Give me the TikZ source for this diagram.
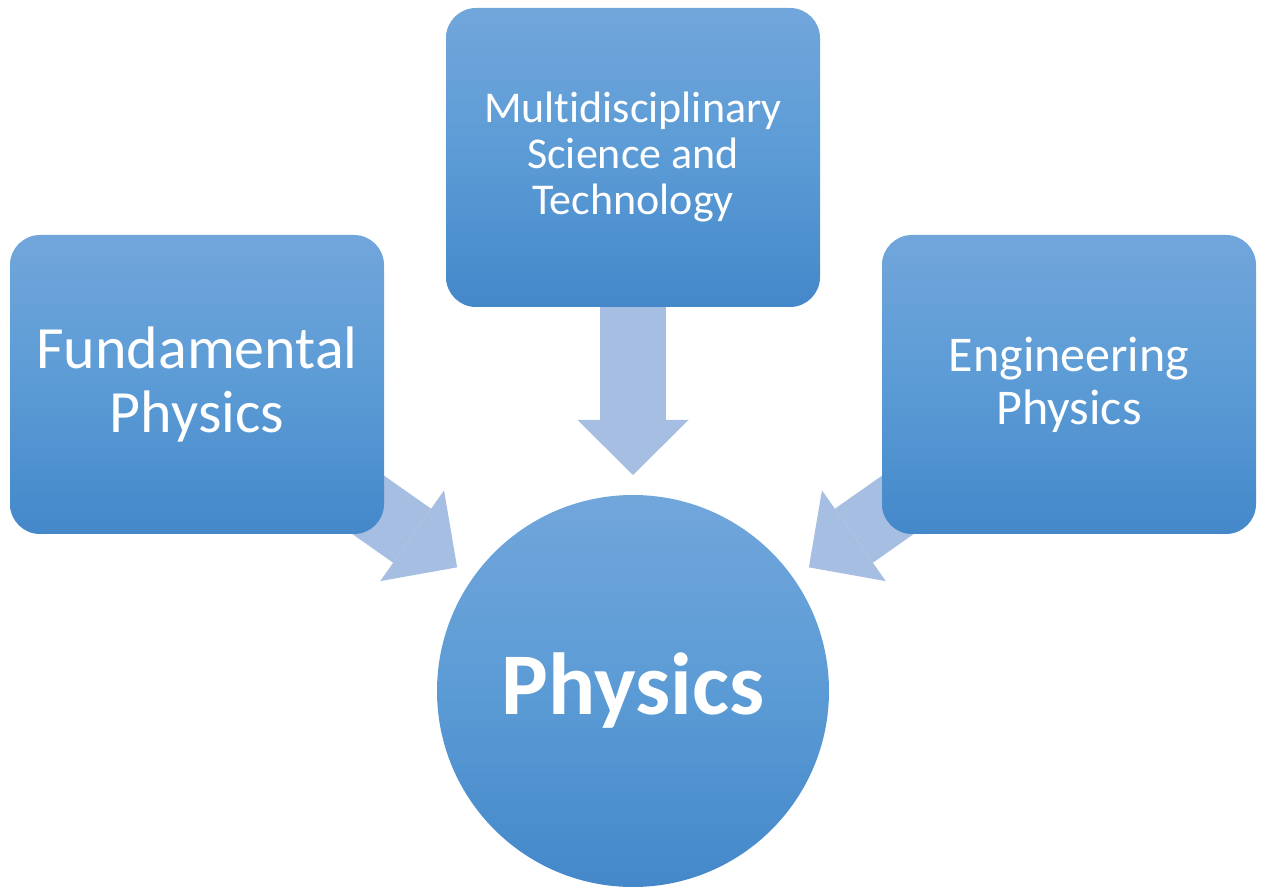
\documentclass[tikz,border=0pt]{standalone}
\usepackage{fontspec}
\setmainfont{Carlito}[Ligatures=NoCommon]
\usepackage{tikz}
\usetikzlibrary{arrows.meta, positioning}

\definecolor{boxtop}{RGB}{113,166,219}
\definecolor{boxmid}{RGB}{91,155,213}
\definecolor{boxbot}{RGB}{68,136,202}
\definecolor{arrowfill}{RGB}{166,190,225}

\pgfdeclarelayer{bg}
\pgfsetlayers{bg,main}

\begin{document}
\begin{tikzpicture}[
    x=1pt, y=1pt,
    box/.style={rectangle, rounded corners=30pt, minimum width=374pt, minimum height=299pt, inner sep=0pt, outer sep=0pt,
        top color=boxtop, bottom color=boxbot, middle color=boxmid, text=white, align=center},
    hub/.style={circle, minimum size=392pt, inner sep=0pt, outer sep=0pt,
        top color=boxtop, bottom color=boxbot, middle color=boxmid, text=white, align=center},
    flow/.style={draw=arrowfill, line width=66pt, -{Triangle[length=55pt, width=111pt, line width=0pt]}}
]
\useasboundingbox (0,0) rectangle (1265,889);

% centre circle
\node (phys) [hub, font=\fontsize{88}{92}\bfseries\selectfont] at (633,198) {Physics};

% three boxes round it
\node (mid) [box, above=188pt of phys, font=\fontsize{44}{46}\selectfont] {Multidisciplinary\\Science and\\Technology};
\node (fund) [box, left=62pt of mid, yshift=-227pt, font=\fontsize{60}{64}\selectfont] {Fundamental\\Physics};
\node (eng) [box, right=62pt of mid, yshift=-227pt, font=\fontsize{50}{53}\selectfont] {Engineering\\Physics};

% block arrows, behind the boxes
\begin{pgfonlayer}{bg}
\draw [flow, shorten >=19pt] (fund.center) -- (phys);
\draw [flow, shorten >=20pt] (mid.center) -- (phys);
\draw [flow, shorten >=19pt] (eng.center) -- (phys);
\end{pgfonlayer}

\end{tikzpicture}
\end{document}
